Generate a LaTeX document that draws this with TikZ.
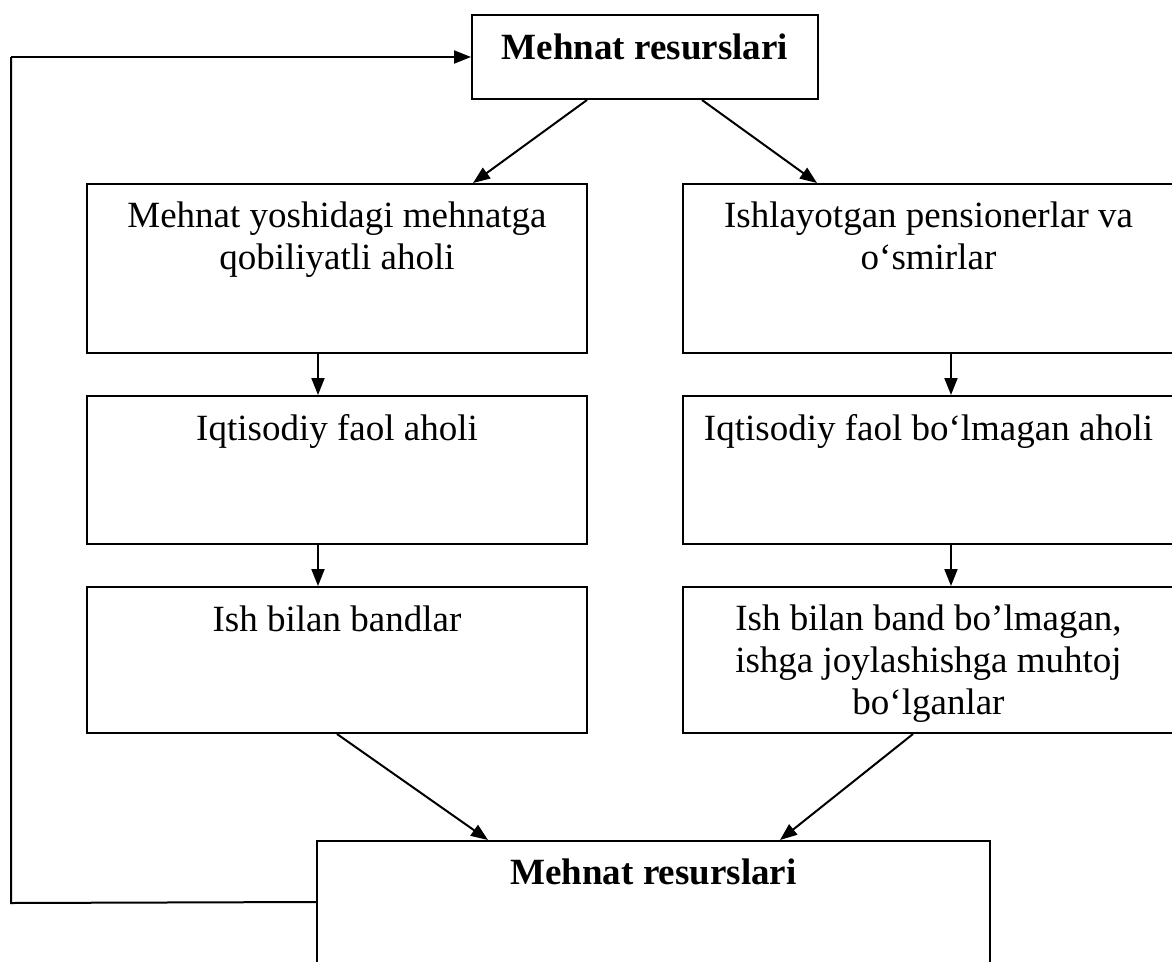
\documentclass[tikz,border=0pt]{standalone}
\usepackage{fontspec}
\setmainfont{Liberation Serif}
\usetikzlibrary{arrows.meta}
\tikzset{
  box/.style={draw=black, line width=2pt, rectangle, inner sep=0pt},
  lbl/.style={font=\fontsize{37}{42}\selectfont, align=center, inner sep=0pt, anchor=base},
  blbl/.style={lbl, font=\fontsize{37}{42}\selectfont\bfseries},
  arr/.style={line width=2pt, -{Triangle[length=17pt,width=13pt]}},
  ln/.style={line width=2pt}
}
\begin{document}
\begin{tikzpicture}[x=1pt,y=-1pt]
\useasboundingbox (0,0) rectangle (1172,961);
\clip (0,0) rectangle (1172,961);
% boxes
\node[box, minimum width=346pt, minimum height=84pt] (top) at (645,57) {};
\node[box, minimum width=500pt, minimum height=169pt] (l1) at (337,268.5) {};
\node[box, minimum width=500pt, minimum height=148pt] (l2) at (337,470) {};
\node[box, minimum width=500pt, minimum height=146pt] (l3) at (337,660) {};
\node[box, minimum width=491pt, minimum height=169pt] (r1) at (928.5,268.5) {};
\node[box, minimum width=491pt, minimum height=148pt] (r2) at (928.5,470) {};
\node[box, minimum width=491pt, minimum height=146pt] (r3) at (928.5,660) {};
\node[box, minimum width=673pt, minimum height=160pt] (bot) at (653.5,921) {};
% texts (anchor base = baseline of the last line)
\node[blbl] (ttop) at ([yshift=-45pt]top.north) {Mehnat resurslari};
\node[lbl] (tl1) at ([yshift=-86pt]l1.north) {Mehnat yoshidagi mehnatga\\qobiliyatli aholi};
\node[lbl] (tr1) at ([yshift=-86pt]r1.north) {Ishlayotgan pensionerlar va\\o‘smirlar};
\node[lbl] (tl2) at ([yshift=-45pt]l2.north) {Iqtisodiy faol aholi};
\node[lbl] (tr2) at ([yshift=-45pt]r2.north) {Iqtisodiy faol bo‘lmagan aholi};
\node[lbl] (tl3) at ([yshift=-45pt]l3.north) {Ish bilan bandlar};
\node[lbl] (tr3) at ([yshift=-128pt]r3.north) {Ish bilan band bo’lmagan,\\ishga joylashishga muhtoj\\bo‘lganlar};
\node[blbl] (tbot) at ([yshift=-44pt]bot.north) {Mehnat resurslari};
% connectors
\draw[arr] ([xshift=-58pt]top.south) -- ([xshift=136pt]l1.north);
\draw[arr] ([xshift=57pt]top.south) -- ([xshift=-111.5pt]r1.north);
\draw[arr] ([xshift=-19pt]l1.south) -- ([xshift=-19pt]l2.north);
\draw[arr] ([xshift=-19pt]l2.south) -- ([xshift=-19pt]l3.north);
\draw[arr] ([xshift=22.5pt]r1.south) -- ([xshift=22.5pt]r2.north);
\draw[arr] ([xshift=22.5pt]r2.south) -- ([xshift=22.5pt]r3.north);
\draw[arr] (l3.south) -- ([xshift=-165.5pt]bot.north);
\draw[arr] ([xshift=-15.5pt]r3.south) -- ([xshift=126.5pt]bot.north);
\coordinate (fbl) at (11,903);
\coordinate (ftl) at (11,57);
\draw[ln] ([yshift=-62pt]bot.north west) -- (fbl) -- (ftl);
\draw[arr] (ftl) -- (top.west);
\end{tikzpicture}
\end{document}
